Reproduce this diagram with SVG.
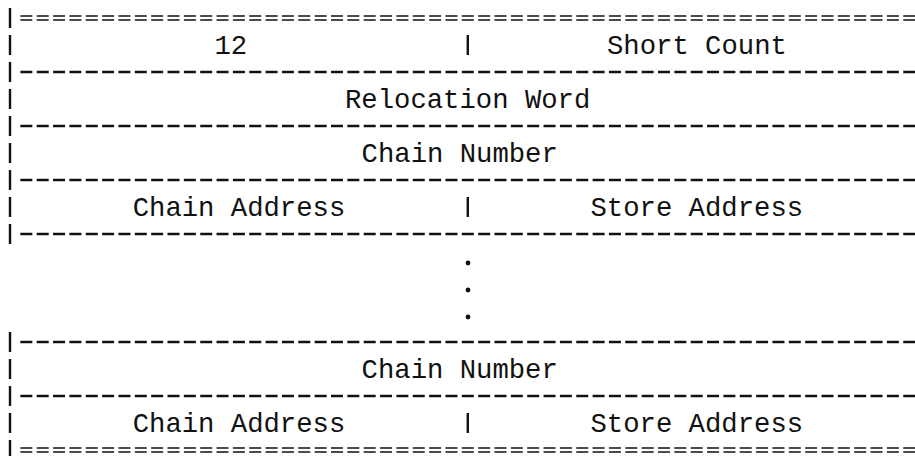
<svg xmlns="http://www.w3.org/2000/svg" width="915" height="456" viewBox="0 0 915 456">
  <style>
    .lbl { font-family: "Liberation Mono", "DejaVu Sans Mono", monospace; font-size: 27.25px; fill: #111; }
    .dash { stroke: #111; stroke-width: 2.7; stroke-dasharray: 12 4.35; fill: none; }
    .dbl { stroke: #111; stroke-width: 1.6; stroke-dasharray: 12 4.35; fill: none; }
    .bar { stroke: #111; stroke-width: 2.4; stroke-linecap: butt; }
    .dot { fill: #111; }
  </style>
  <rect width="915" height="456" fill="#fff"/>

  <!-- record rules: '=' at top and bottom, '-' between fields -->
  <g id="rules">
    <line class="dbl" x1="20.35" y1="16" x2="915" y2="16"/>
    <line class="dbl" x1="20.35" y1="20" x2="915" y2="20"/>
    <line class="dash" x1="20.35" y1="72" x2="915" y2="72"/>
    <line class="dash" x1="20.35" y1="126" x2="915" y2="126"/>
    <line class="dash" x1="20.35" y1="180" x2="915" y2="180"/>
    <line class="dash" x1="20.35" y1="234" x2="915" y2="234"/>
    <line class="dash" x1="20.35" y1="342" x2="915" y2="342"/>
    <line class="dash" x1="20.35" y1="396" x2="915" y2="396"/>
    <line class="dbl" x1="20.35" y1="448" x2="915" y2="448"/>
    <line class="dbl" x1="20.35" y1="452" x2="915" y2="452"/>
  </g>

  <!-- left border bars, one per printed line -->
  <g id="border">
    <line class="bar" x1="10" y1="8" x2="10" y2="28"/>
    <line class="bar" x1="10" y1="35" x2="10" y2="55"/>
    <line class="bar" x1="10" y1="62" x2="10" y2="82"/>
    <line class="bar" x1="10" y1="89" x2="10" y2="109"/>
    <line class="bar" x1="10" y1="116" x2="10" y2="136"/>
    <line class="bar" x1="10" y1="143" x2="10" y2="163"/>
    <line class="bar" x1="10" y1="170" x2="10" y2="190"/>
    <line class="bar" x1="10" y1="197" x2="10" y2="217"/>
    <line class="bar" x1="10" y1="224" x2="10" y2="244"/>
    <line class="bar" x1="10" y1="332" x2="10" y2="352"/>
    <line class="bar" x1="10" y1="359" x2="10" y2="379"/>
    <line class="bar" x1="10" y1="386" x2="10" y2="406"/>
    <line class="bar" x1="10" y1="413" x2="10" y2="433"/>
    <line class="bar" x1="10" y1="440" x2="10" y2="460"/>
  </g>

  <g id="block-type">
    <text class="lbl" x="214.5" y="54">12</text>
    <line class="bar" x1="467.8" y1="35" x2="467.8" y2="55"/>
  </g>
  <g id="short-count">
    <text class="lbl" x="607" y="54">Short Count</text>
  </g>
  <g id="relocation-word">
    <text class="lbl" x="345" y="108">Relocation Word</text>
  </g>
  <g id="chain-number-1">
    <text class="lbl" x="361.6" y="162">Chain Number</text>
  </g>
  <g id="chain-address-1">
    <text class="lbl" x="132.7" y="216">Chain Address</text>
    <line class="bar" x1="467.8" y1="197" x2="467.8" y2="217"/>
  </g>
  <g id="store-address-1">
    <text class="lbl" x="590.5" y="216">Store Address</text>
  </g>

  <g id="ellipsis">
    <circle class="dot" cx="468" cy="263" r="2.4"/>
    <circle class="dot" cx="468" cy="290" r="2.4"/>
    <circle class="dot" cx="468" cy="317" r="2.4"/>
  </g>

  <g id="chain-number-n">
    <text class="lbl" x="361.6" y="378">Chain Number</text>
  </g>
  <g id="chain-address-n">
    <text class="lbl" x="132.7" y="432">Chain Address</text>
    <line class="bar" x1="467.8" y1="413" x2="467.8" y2="433"/>
  </g>
  <g id="store-address-n">
    <text class="lbl" x="590.5" y="432">Store Address</text>
  </g>
</svg>
